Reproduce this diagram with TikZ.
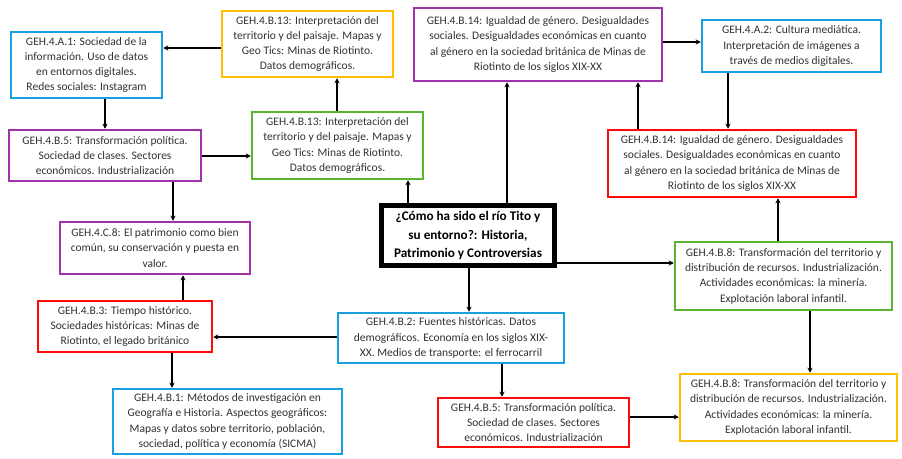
\documentclass[tikz,border=0pt]{standalone}
\usepackage{fontspec}
\setmainfont{Carlito}
\usetikzlibrary{arrows.meta}
\definecolor{cblue}{RGB}{25,160,225}
\definecolor{cyellow}{RGB}{255,190,0}
\definecolor{cpurple}{RGB}{160,50,170}
\definecolor{cgreen}{RGB}{90,180,50}
\definecolor{cred}{RGB}{255,10,10}
\definecolor{ctext}{RGB}{50,50,50}
\begin{document}
\begin{tikzpicture}[x=1pt,y=-1pt,
  box/.style={draw, line width=2.5pt, fill=white, align=center, inner sep=0pt,
    text=ctext, font=\fontsize{11.5}{15.3}\selectfont},
  mainbox/.style={draw=black, line width=4.5pt, fill=white, align=center, inner sep=0pt,
    text=black, font=\fontsize{13.2}{18.8}\selectfont\bfseries},
  arr/.style={line width=1.8pt, -{Stealth[length=5pt,width=5pt]}}]
\useasboundingbox (0,0) rectangle (902,458);
\fill[white] (0,0) rectangle (902,458);

\node[box, draw=cblue, minimum width=151pt, minimum height=66pt] (A1) at (86.5,65)
  {GEH.4.A.1: Sociedad de la\\información. Uso de datos\\en entornos digitales.\\Redes sociales: Instagram};
\node[box, draw=cyellow, minimum width=171pt, minimum height=66pt] (Y13) at (307.5,44)
  {GEH.4.B.13: Interpretación del\\territorio y del paisaje. Mapas y\\Geo Tics: Minas de Riotinto.\\Datos demográficos.};
\node[box, draw=cpurple, minimum width=248pt, minimum height=73pt] (P14) at (538,44.5)
  {GEH.4.B.14: Igualdad de género. Desigualdades\\sociales. Desigualdades económicas en cuanto\\al género en la sociedad británica de Minas de\\Riotinto de los siglos XIX-XX};
\node[box, draw=cblue, minimum width=179pt, minimum height=52pt] (A2) at (791.5,46)
  {GEH.4.A.2: Cultura mediática.\\Interpretación de imágenes a\\través de medios digitales.};
\node[box, draw=cpurple, minimum width=192pt, minimum height=51pt] (B5) at (105,155.5)
  {GEH.4.B.5: Transformación política.\\Sociedad de clases. Sectores\\económicos. Industrialización};
\node[box, draw=cgreen, minimum width=171pt, minimum height=67pt] (G13) at (337.5,145.5)
  {GEH.4.B.13: Interpretación del\\territorio y del paisaje. Mapas y\\Geo Tics: Minas de Riotinto.\\Datos demográficos.};
\node[box, draw=cpurple, minimum width=190pt, minimum height=52pt] (C8) at (155,248)
  {GEH.4.C.8: El patrimonio como bien\\común, su conservación y puesta en\\valor.};
\node[mainbox, minimum width=173pt, minimum height=60pt] (M) at (468,235.5)
  {¿Cómo ha sido el río Tito y\\su entorno?: Historia,\\Patrimonio y Controversias};
\node[box, draw=cred, minimum width=248pt, minimum height=67pt] (R14) at (732,163.5)
  {GEH.4.B.14: Igualdad de género. Desigualdades\\sociales. Desigualdades económicas en cuanto\\al género en la sociedad británica de Minas de\\Riotinto de los siglos XIX-XX};
\node[box, draw=cgreen, minimum width=217pt, minimum height=68pt] (G8) at (783.5,276)
  {GEH.4.B.8: Transformación del territorio y\\distribución de recursos. Industrialización.\\Actividades económicas: la minería.\\Explotación laboral infantil.};
\node[box, draw=cred, minimum width=174pt, minimum height=51pt] (B3) at (125,326.5)
  {GEH.4.B.3: Tiempo histórico.\\Sociedades históricas: Minas de\\Riotinto, el legado británico};
\node[box, draw=cblue, minimum width=226pt, minimum height=50pt] (B2) at (451,338)
  {GEH.4.B.2: Fuentes históricas. Datos\\demográficos. Economía en los siglos XIX-\\XX. Medios de transporte: el ferrocarril};
\node[box, draw=cblue, minimum width=229pt, minimum height=65pt] (B1) at (227.5,421.5)
  {GEH.4.B.1: Métodos de investigación en\\Geografía e Historia. Aspectos geográficos:\\Mapas y datos sobre territorio, población,\\sociedad, política y economía (SICMA)};
\node[box, draw=cred, minimum width=191pt, minimum height=49pt] (R5) at (533.5,422.5)
  {GEH.4.B.5: Transformación política.\\Sociedad de clases. Sectores\\económicos. Industrialización};
\node[box, draw=cyellow, minimum width=217pt, minimum height=67pt] (Y8) at (788.5,407.5)
  {GEH.4.B.8: Transformación del territorio y\\distribución de recursos. Industrialización.\\Actividades económicas: la minería.\\Explotación laboral infantil.};

% connectors
\draw[arr] (Y13.west |- 0,48) -- (A1.east |- 0,48);
\draw[arr] (A1.south -| 105,0) -- (B5.north -| 105,0);
\draw[arr] (B5.east |- 0,156) -- (G13.west |- 0,156);
\draw[arr] (B5.south -| 173,0) -- (C8.north -| 173,0);
\draw[arr] (B3.north -| 183,0) -- (C8.south -| 183,0);
\draw[arr] (B2.west |- 0,337) -- (B3.east |- 0,337);
\draw[arr] (B3.south -| 172,0) -- (B1.north -| 172,0);
\draw[arr] (M.north -| 408,0) -- (G13.south -| 408,0);
\draw[arr] (G13.north -| 337,0) -- (Y13.south -| 337,0);
\draw[arr] (M.north -| 507,0) -- (P14.south -| 507,0);
\draw[arr] (P14.east |- 0,42) -- (A2.west |- 0,42);
\draw[arr] (A2.south -| 728,0) -- (R14.north -| 728,0);
\draw[arr] (R14.north -| 638,0) -- (P14.south -| 638,0);
\draw[arr] (G8.north -| 778,0) -- (R14.south -| 778,0);
\draw[arr] (M.east |- 0,263) -- (G8.west |- 0,263);
\draw[arr] (M.south -| 469,0) -- (B2.north -| 469,0);
\draw[arr] (B2.south -| 502,0) -- (R5.north -| 502,0);
\draw[arr] (R5.east |- 0,417) -- (Y8.west |- 0,417);
\draw[arr] (G8.south -| 810,0) -- (Y8.north -| 810,0);
\end{tikzpicture}
\end{document}
